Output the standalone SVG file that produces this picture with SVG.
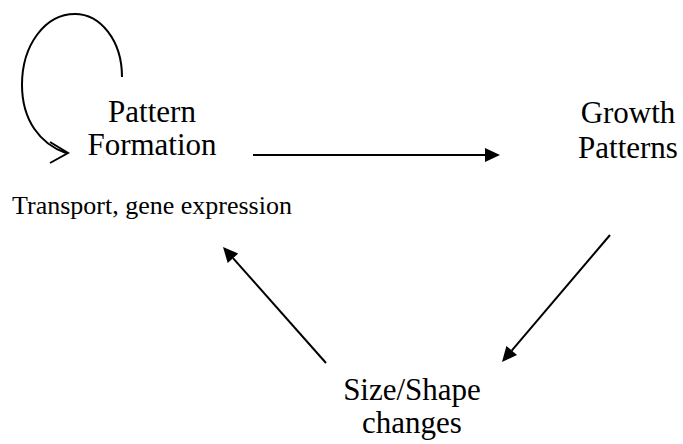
<svg xmlns="http://www.w3.org/2000/svg" width="683" height="444" viewBox="0 0 683 444">
  <style>
    .node-txt { font-family: "Liberation Serif", "Times New Roman", serif; font-size: 31px; fill: #000; text-anchor: middle; }
    .sub-txt { font-family: "Liberation Serif", "Times New Roman", serif; font-size: 26px; fill: #000; }
    .link { fill: none; stroke: #000; stroke-width: 2; }
    .tip { fill: #000; stroke: none; }
  </style>
  <rect width="683" height="444" fill="#fff"/>

  <g id="pattern-formation">
    <text class="node-txt" x="152" y="122">Pattern</text>
    <text class="node-txt" x="152" y="155">Formation</text>
    <text class="sub-txt" x="12" y="214">Transport, gene expression</text>
  </g>

  <g id="growth-patterns">
    <text class="node-txt" x="628" y="123">Growth</text>
    <text class="node-txt" x="628" y="158">Patterns</text>
  </g>

  <g id="size-shape-changes">
    <text class="node-txt" x="412" y="400">Size/Shape</text>
    <text class="node-txt" x="412" y="433">changes</text>
  </g>

  <g id="connectors">
    <!-- self loop with an open chevron head -->
    <path class="link" d="M122,77 C122,40 100,14 75,14 C45,14 22,45 22,85 C22,120 40,144 66,153"/>
    <path class="link" d="M50,142 L68,153 L50,163"/>
    <!-- pattern formation to growth patterns -->
    <line class="link" x1="253" y1="155" x2="486" y2="155"/>
    <polygon class="tip" points="500,155 485,148 485,162"/>
    <!-- growth patterns to size/shape changes -->
    <line class="link" x1="610" y1="235" x2="511.7" y2="350.6"/>
    <polygon class="tip" points="502,362 517,355.1 506.4,346"/>
    <!-- size/shape changes back to pattern formation -->
    <line class="link" x1="326" y1="363" x2="233" y2="258.2"/>
    <polygon class="tip" points="223,247 238.2,253.6 227.7,262.9"/>
  </g>
</svg>
